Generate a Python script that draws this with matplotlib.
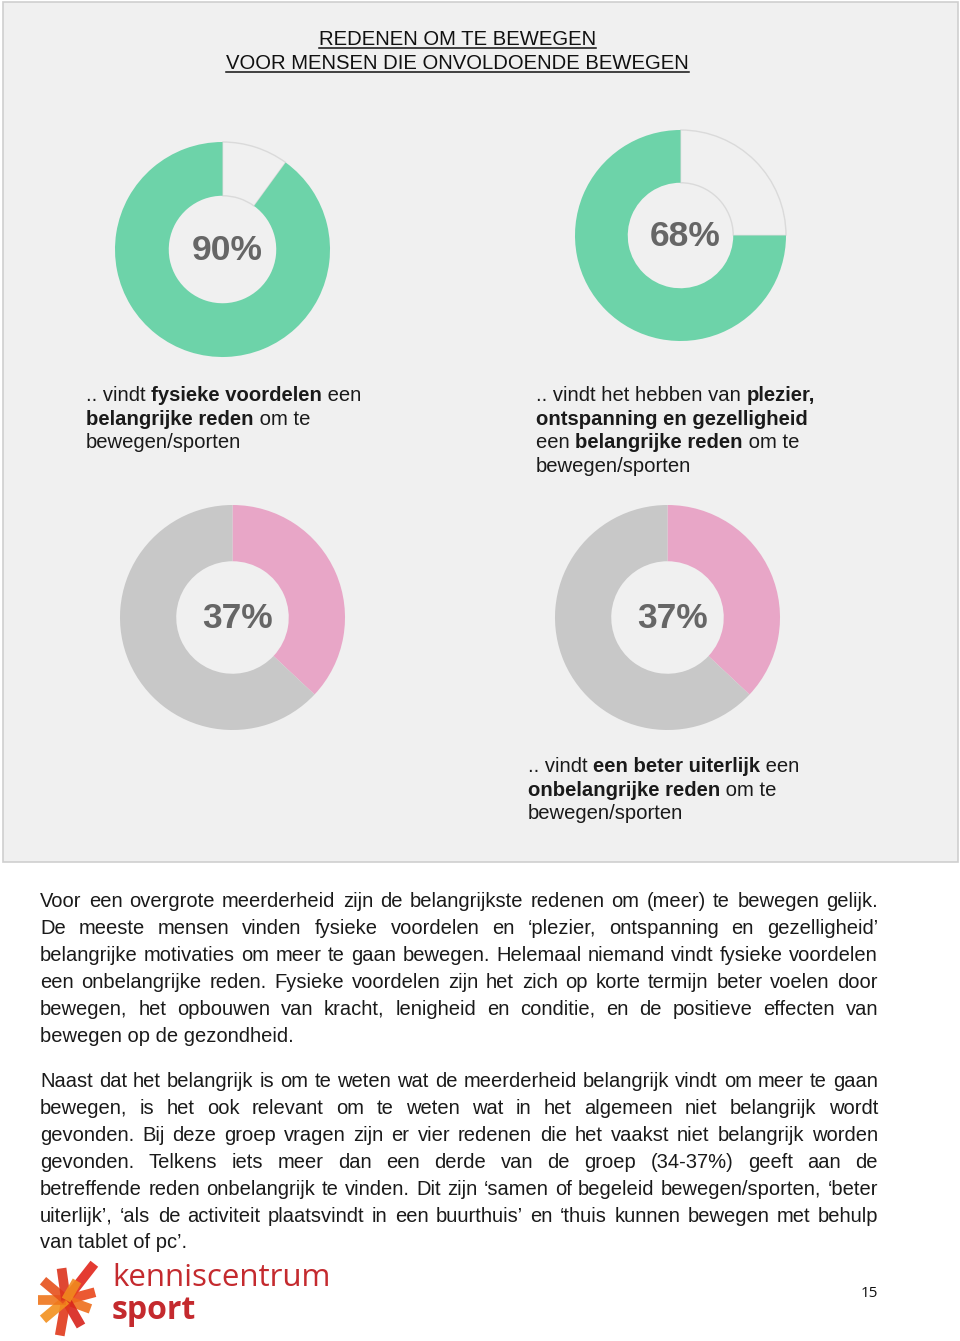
# Redenen om te bewegen - donut page recreation
import matplotlib
matplotlib.use("Agg")
import matplotlib.pyplot as plt
from matplotlib.patches import Rectangle
import numpy as np

# data
donut_labels = ["90%", "68%", "37%", "37%"]
arc_share = [90, 75, 37, 37]      # share of ring that is coloured, as drawn
donut_kind = ["good", "good", "bad", "bad"]

title_lines = ["REDENEN OM TE BEWEGEN", "VOOR MENSEN DIE ONVOLDOENDE BEWEGEN"]

captions = [
    [[(".. vindt ", False), ("fysieke voordelen", True), (" een", False)],
     [("belangrijke reden", True), (" om te", False)],
     [("bewegen/sporten", False)]],
    [[(".. vindt het hebben van ", False), ("plezier,", True)],
     [("ontspanning en gezelligheid", True)],
     [("een ", False), ("belangrijke reden", True), (" om te", False)],
     [("bewegen/sporten", False)]],
    [[(".. vindt ", False), ("een beter uiterlijk", True), (" een", False)],
     [("onbelangrijke reden", True), (" om te", False)],
     [("bewegen/sporten", False)]],
]

para1 = [
    "Voor een overgrote meerderheid zijn de belangrijkste redenen om (meer) te bewegen gelijk.",
    "De meeste mensen vinden fysieke voordelen en \u2018plezier, ontspanning en gezelligheid\u2019",
    "belangrijke motivaties om meer te gaan bewegen. Helemaal niemand vindt fysieke voordelen",
    "een onbelangrijke reden. Fysieke voordelen zijn het zich op korte termijn beter voelen door",
    "bewegen, het opbouwen van kracht, lenigheid en conditie, en de positieve effecten van",
    "bewegen op de gezondheid.",
]
para2 = [
    "Naast dat het belangrijk is om te weten wat de meerderheid belangrijk vindt om meer te gaan",
    "bewegen, is het ook relevant om te weten wat in het algemeen niet belangrijk wordt",
    "gevonden. Bij deze groep vragen zijn er vier redenen die het vaakst niet belangrijk worden",
    "gevonden. Telkens iets meer dan een derde van de groep (34-37%) geeft aan de",
    "betreffende reden onbelangrijk te vinden. Dit zijn \u2018samen of begeleid bewegen/sporten, \u2018beter",
    "uiterlijk\u2019, \u2018als de activiteit plaatsvindt in een buurthuis\u2019 en \u2018thuis kunnen bewegen met behulp",
    "van tablet of pc\u2019.",
]

# layout (pixels)
W, H = 960, 1341
centers = [(222.5, 249.5), (680.5, 235.5), (232.5, 617.5), (667.5, 617.5)]
radii = [107.5, 105.5, 112.5, 112.5]
caption_pos = [(86, 401), (536, 401), (528, 772)]
FONT = "Liberation Sans"
TXT = "#1a1a1a"

fig = plt.figure(figsize=(W / 100, H / 100), dpi=100)
ax = fig.add_axes([0, 0, 1, 1])
renderer = fig.canvas.get_renderer()

# grey panel
ax.add_patch(Rectangle((3, 2), 955, 860, facecolor="#f0f0f0", edgecolor="#cfcfcf", lw=1.2, zorder=0))

# donuts (y axis is inverted, so start at -90 and go "counterclockwise" = clockwise on screen)
for i in range(4):
    share = arc_share[i]
    if donut_kind[i] == "good":
        vals = [100 - share, share]
        cols = ["#f0f0f0", "#6dd3a9"]
    else:
        vals = [share, 100 - share]
        cols = ["#e8a6c7", "#c8c8c8"]
    wedges, _ = ax.pie(vals, colors=cols, startangle=-90, counterclock=True,
                       center=centers[i], radius=radii[i], frame=True,
                       wedgeprops=dict(width=radii[i] * 0.5, linewidth=0))
    if donut_kind[i] == "good":
        wedges[0].set_edgecolor("#dadada")
        wedges[0].set_linewidth(1.0)
    ax.text(centers[i][0] + 5, centers[i][1] + 1, donut_labels[i], fontsize=25.5,
            fontweight="bold", color="#666666", ha="center", va="center", family=FONT)


def width_of(s, bold, size, family=FONT):
    # measure with a sentinel so trailing spaces count
    t1 = ax.text(0, 0, s + "|", fontsize=size, fontweight="bold" if bold else "normal", family=family)
    t2 = ax.text(0, 0, "|", fontsize=size, fontweight="bold" if bold else "normal", family=family)
    w = t1.get_window_extent(renderer).width - t2.get_window_extent(renderer).width
    t1.remove()
    t2.remove()
    return w


def rich_line(x, y, runs, size):
    for txt, bold in runs:
        ax.text(x, y, txt, fontsize=size, fontweight="bold" if bold else "normal",
                color=TXT, ha="left", va="baseline", family=FONT)
        x += width_of(txt, bold, size)


# title
for k, line in enumerate(title_lines):
    y = 45 + k * 23.5
    ax.text(457.5, y, line, fontsize=14.6, color="#111111", ha="center", va="baseline", family=FONT)
    w = width_of(line, False, 14.6)
    ax.plot([457.5 - w / 2, 457.5 + w / 2], [y + 3, y + 3], color="#111111", lw=1.1)

# captions
for (cx, cy), lines in zip(caption_pos, captions):
    for k, runs in enumerate(lines):
        rich_line(cx, cy + k * 23.5, runs, 14.6)

# body text, justified
LEFT, RIGHT = 40, 878


def paragraph(lines, y0, size=14.5, step=26.9):
    for k, line in enumerate(lines):
        y = y0 + k * step
        words = line.split(" ")
        if k == len(lines) - 1:
            ax.text(LEFT, y, line, fontsize=size, color=TXT, ha="left", va="baseline", family=FONT)
            continue
        ws = [width_of(w, False, size) for w in words]
        gap = (RIGHT - LEFT - sum(ws)) / (len(words) - 1)
        x = LEFT
        for w, wd in zip(words, ws):
            ax.text(x, y, w, fontsize=size, color=TXT, ha="left", va="baseline", family=FONT)
            x += wd + gap


paragraph(para1, 907)
paragraph(para2, 1087)

# logo: orange/red star plus wordmark
rays = [(-52, 46, "#e1261c"), (-15, 30, "#e9471c"), (20, 26, "#ee6f1d"), (60, 30, "#d8231c"),
        (100, 36, "#e03a1c"), (140, 30, "#f2901e"), (180, 28, "#ef761c"), (220, 30, "#e6501c"),
        (262, 32, "#dc331d"), (300, 22, "#f08a1f")]
for ang, ln, c in rays:
    a = np.deg2rad(ang)
    ax.plot([66, 66 + ln * np.cos(a)], [1300, 1300 + ln * np.sin(a)], color=c, lw=7,
            solid_capstyle="butt", alpha=0.9)
ax.text(112, 1286, "kenniscentrum", fontsize=22.5, color="#c42a2e", family="Open Sans",
        ha="left", va="baseline")
ax.text(112, 1319, "sport", fontsize=23, fontweight="bold", color="#c42a2e", family="Open Sans",
        ha="left", va="baseline")

# page number
ax.text(869, 1297, "15", fontsize=11, color="#111111", family="Open Sans", ha="center", va="baseline")

ax.set_xlim(0, W)
ax.set_ylim(H, 0)
ax.set_aspect("auto")
ax.axis("off")
fig.savefig("out.png", dpi=100, facecolor="white")
